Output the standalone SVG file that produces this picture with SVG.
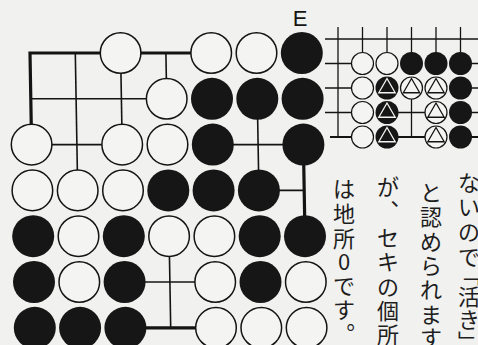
<svg xmlns="http://www.w3.org/2000/svg" width="478" height="345" viewBox="0 0 478 345">
<style>
.thin{fill:none;stroke:#141414;stroke-width:1.6;stroke-linecap:butt}
.thick{fill:none;stroke:#141414;stroke-width:3.2;stroke-linejoin:miter;stroke-linecap:butt}
.sthin{fill:none;stroke:#141414;stroke-width:1.3}
.sthick{fill:none;stroke:#141414;stroke-width:2}
.w{fill:#f4f4f2;stroke:#141414;stroke-width:1.5}
.b{fill:#161616}
.sw{fill:#f4f4f2;stroke:#141414;stroke-width:1.2}
.sb{fill:#161616}
.tw{fill:none;stroke:#141414;stroke-width:1.3;stroke-linejoin:miter}
.tb{fill:none;stroke:#f4f4f2;stroke-width:1.3;stroke-linejoin:miter}
.jp{font-family:"Noto Sans CJK JP","Noto Sans CJK SC",sans-serif;font-size:22px;fill:#1e1e1e;text-anchor:middle}
.lbl{font-family:"Liberation Sans",Arial,sans-serif;font-size:22px;fill:#141414;text-anchor:middle}
</style>
<defs>
<path id="tri" d="M0,-9.5 L8.2,4.75 L-8.2,4.75 Z"/>
</defs>
<rect width="478" height="345" fill="#f1f1ef"/>

<g id="connectors">
<path class="thick" d="M31.6,144.6 L30,53 L211.2,53"/>
<path class="thick" d="M303.4,144.6 L305,236.2"/>
<path class="thick" d="M125.4,327.8 L216,327.8"/>
<path class="thin" d="M75.3,53 L77.7,190.4"/>
<path class="thin" d="M30.8,98.8 L166.7,98.8"/>
<path class="thin" d="M120.6,53 L122.2,144.6"/>
<path class="thin" d="M31.6,144.6 L122.2,144.6"/>
<path class="thin" d="M165.9,53 L166.7,98.8"/>
<path class="thin" d="M212.8,144.6 L303.4,144.6"/>
<path class="thin" d="M257.3,98.8 L258.9,190.4"/>
<path class="thin" d="M258.9,190.4 L304.2,190.4"/>
<path class="thin" d="M124.6,282 L215.2,282"/>
<path class="thin" d="M169.1,236.2 L170.7,327.8"/>
</g>

<g id="main-stones">
<circle class="w" cx="120.6" cy="53" r="20.3"/>
<circle class="w" cx="211.2" cy="53" r="20.3"/>
<circle class="w" cx="256.5" cy="53" r="20.3"/>
<circle class="b" cx="301.8" cy="53" r="21"/>
<circle class="w" cx="166.7" cy="98.8" r="20.3"/>
<circle class="b" cx="212" cy="98.8" r="21"/>
<circle class="b" cx="257.3" cy="98.8" r="21"/>
<circle class="b" cx="302.6" cy="98.8" r="21"/>
<circle class="w" cx="31.6" cy="144.6" r="20.3"/>
<circle class="w" cx="122.2" cy="144.6" r="20.3"/>
<circle class="w" cx="167.5" cy="144.6" r="20.3"/>
<circle class="b" cx="212.8" cy="144.6" r="21"/>
<circle class="b" cx="303.4" cy="144.6" r="21"/>
<circle class="w" cx="32.4" cy="190.4" r="20.3"/>
<circle class="w" cx="77.7" cy="190.4" r="20.3"/>
<circle class="w" cx="123" cy="190.4" r="20.3"/>
<circle class="b" cx="168.3" cy="190.4" r="21"/>
<circle class="b" cx="213.6" cy="190.4" r="21"/>
<circle class="b" cx="258.9" cy="190.4" r="21"/>
<circle class="b" cx="33.2" cy="236.2" r="21"/>
<circle class="w" cx="78.5" cy="236.2" r="20.3"/>
<circle class="b" cx="123.8" cy="236.2" r="21"/>
<circle class="w" cx="169.1" cy="236.2" r="20.3"/>
<circle class="w" cx="214.4" cy="236.2" r="20.3"/>
<circle class="b" cx="259.7" cy="236.2" r="21"/>
<circle class="b" cx="305" cy="236.2" r="21"/>
<circle class="b" cx="34" cy="282" r="21"/>
<circle class="w" cx="79.3" cy="282" r="20.3"/>
<circle class="b" cx="124.6" cy="282" r="21"/>
<circle class="w" cx="215.2" cy="282" r="20.3"/>
<circle class="b" cx="260.5" cy="282" r="21"/>
<circle class="w" cx="305.8" cy="282" r="20.3"/>
<circle class="b" cx="34.8" cy="327.8" r="21"/>
<circle class="b" cx="80.1" cy="327.8" r="21"/>
<circle class="b" cx="125.4" cy="327.8" r="21"/>
<circle class="w" cx="216" cy="327.8" r="20.3"/>
<circle class="w" cx="261.3" cy="327.8" r="20.3"/>
<circle class="w" cx="306.6" cy="327.8" r="20.3"/>
</g>

<g id="label-E"><text class="lbl" x="300" y="26">E</text></g>

<g id="small-board">
<g id="small-lines">
<path class="sthin" d="M325,39 H478"/>
<path class="sthin" d="M338,27 V137 M362.5,27 V63.5 M387,27 V63.5 M411.5,27 V63.5 M436,27 V63.5 M460.5,27 V63.5"/>
<path class="sthin" d="M325,63.5 H362.5 M460.5,63.5 H478 M325,88 H362.5 M460.5,88 H478 M325,112.5 H362.5 M460.5,112.5 H478"/>
<path class="sthin" d="M387,112.5 H436 M411.5,88 V137"/>
<path class="sthick" d="M330,137 H362.5 M387,137 H436 M460.5,137 H478"/>
</g>
<g id="small-stones">
<circle class="sw" cx="362.5" cy="63.5" r="11"/>
<circle class="sw" cx="387" cy="63.5" r="11"/>
<circle class="sb" cx="411.5" cy="63.5" r="11.5"/>
<circle class="sb" cx="436" cy="63.5" r="11.5"/>
<circle class="sb" cx="460.5" cy="63.5" r="11.5"/>
<circle class="sw" cx="362.5" cy="88" r="11"/>
<circle class="sb" cx="387" cy="88" r="11.5"/>
<circle class="sw" cx="411.5" cy="88" r="11"/>
<circle class="sw" cx="436" cy="88" r="11"/>
<circle class="sb" cx="460.5" cy="88" r="11.5"/>
<circle class="sw" cx="362.5" cy="112.5" r="11"/>
<circle class="sb" cx="387" cy="112.5" r="11.5"/>
<circle class="sw" cx="436" cy="112.5" r="11"/>
<circle class="sb" cx="460.5" cy="112.5" r="11.5"/>
<circle class="sw" cx="362.5" cy="137" r="11"/>
<circle class="sb" cx="387" cy="137" r="11.5"/>
<circle class="sw" cx="436" cy="137" r="11"/>
<circle class="sb" cx="460.5" cy="137" r="11.5"/>
</g>
<g id="triangles">
<use href="#tri" class="tb" x="387" y="88"/>
<use href="#tri" class="tw" x="411.5" y="88"/>
<use href="#tri" class="tw" x="436" y="88"/>
<use href="#tri" class="tb" x="387" y="112.5"/>
<use href="#tri" class="tw" x="436" y="112.5"/>
<use href="#tri" class="tb" x="387" y="137"/>
<use href="#tri" class="tw" x="436" y="137"/>
</g>
</g>

<g id="text">
<g id="col-a">
<text class="jp" x="469" y="191">な</text>
<text class="jp" x="469" y="215">い</text>
<text class="jp" x="469" y="240">の</text>
<text class="jp" x="469" y="265">で</text>
<text class="jp" x="469" y="283">﹁</text>
<text class="jp" x="469" y="305">活</text>
<text class="jp" x="469" y="328">き</text>
<text class="jp" x="469" y="350">﹂</text>
</g>
<g id="col-b">
<text class="jp" x="431" y="201">と</text>
<text class="jp" x="431" y="225">認</text>
<text class="jp" x="431" y="250">め</text>
<text class="jp" x="431" y="274">ら</text>
<text class="jp" x="431" y="298">れ</text>
<text class="jp" x="431" y="323">ま</text>
<text class="jp" x="431" y="346">す</text>
</g>
<g id="col-c">
<text class="jp" x="388" y="195">が</text>
<text class="jp" x="388" y="219">︑</text>
<text class="jp" x="388" y="246">セ</text>
<text class="jp" x="388" y="270">キ</text>
<text class="jp" x="388" y="295">の</text>
<text class="jp" x="388" y="319">個</text>
<text class="jp" x="388" y="343">所</text>
</g>
<g id="col-d">
<text class="jp" x="344" y="197">は</text>
<text class="jp" x="344" y="222">地</text>
<text class="jp" x="344" y="247">所</text>
<text class="jp" x="344" y="270">0</text>
<text class="jp" x="344" y="294">で</text>
<text class="jp" x="344" y="318">す</text>
<text class="jp" x="344" y="342">︒</text>
</g>
</g>
</svg>
